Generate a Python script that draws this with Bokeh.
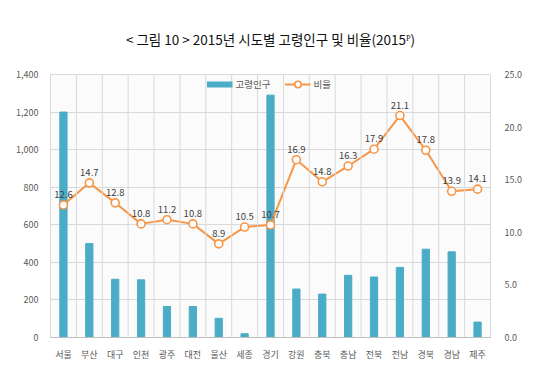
from bokeh.plotting import figure
from bokeh.models import (Range1d, LinearAxis, FixedTicker, NumeralTickFormatter, Label,
                          Legend, LegendItem, ColumnDataSource, Span, Title)
from bokeh.embed import file_html
from bokeh.resources import INLINE
from bokeh.core.properties import value

regions = ["서울", "부산", "대구", "인천", "광주", "대전", "울산", "세종", "경기",
           "강원", "충북", "충남", "전북", "전남", "경북", "경남", "제주"]
elderly = [1200, 500, 310, 307, 165, 165, 102, 20, 1290,
           258, 231, 331, 322, 373, 470, 456, 82]
ratio = [12.6, 14.7, 12.8, 10.8, 11.2, 10.8, 8.9, 10.5, 10.7,
         16.9, 14.8, 16.3, 17.9, 21.1, 17.8, 13.9, 14.1]
left_ticks = [0, 200, 400, 600, 800, 1000, 1200, 1400]
right_ticks = [0, 5, 10, 15, 20, 25]

FONT = "Noto Sans CJK KR"
BAR = "#4BACC6"
ORANGE = "#F79646"
TXT = "#595959"

src = ColumnDataSource(dict(cat=regions, val=elderly, pct=ratio,
                            lab=["%.1f" % v for v in ratio]))

p = figure(width=524, height=363, x_range=regions, y_range=Range1d(0, 1400),
           output_backend="svg", toolbar_location=None, title_location=None,
           min_border_left=50, min_border_right=34, min_border_top=70, min_border_bottom=25)
p.extra_y_ranges = {"pct": Range1d(0, 25)}
p.background_fill_color = "#fbfbfb"
p.border_fill_color = "white"
p.outline_line_color = "#d9d9d9"

# grids
p.ygrid.ticker = FixedTicker(ticks=left_ticks)
p.ygrid.grid_line_color = "#d9d9d9"
p.xgrid.visible = False
for i in range(1, len(regions)):
    p.add_layout(Span(location=i, dimension="height", line_color="#d9d9d9", line_width=1))

bars = p.vbar(x="cat", top="val", width=0.28, source=src, color=BAR)
ln = p.line(x="cat", y="pct", source=src, y_range_name="pct", color=ORANGE, line_width=2)
mk = p.scatter(x="cat", y="pct", source=src, y_range_name="pct", size=8,
               fill_color="white", line_color=ORANGE, line_width=1.6)
p.text(x="cat", y="pct", text="lab", source=src, y_range_name="pct", y_offset=-7,
       text_align="center", text_baseline="bottom", text_font=value(FONT),
       text_font_size="9.5px", text_color="#404040")

ax = p.xaxis[0]
ax.major_label_text_font = FONT
ax.major_label_text_font_size = "9px"
ax.major_label_text_color = TXT
ax.major_tick_line_color = None
ax.minor_tick_line_color = None
ax.axis_line_color = "#bfbfbf"
ax.major_label_standoff = 4

ly = p.yaxis[0]
ly.ticker = FixedTicker(ticks=left_ticks)
ly.formatter = NumeralTickFormatter(format="0,0")
ly.major_label_text_font = FONT
ly.major_label_text_font_size = "9px"
ly.major_label_text_color = TXT
ly.axis_line_color = None
ly.major_tick_line_color = None
ly.minor_tick_line_color = None
ly.major_label_standoff = 6

ry = LinearAxis(y_range_name="pct", ticker=FixedTicker(ticks=right_ticks),
                formatter=NumeralTickFormatter(format="0.0"))
ry.major_label_text_font = FONT
ry.major_label_text_font_size = "9px"
ry.major_label_text_color = TXT
ry.axis_line_color = None
ry.major_tick_line_color = None
ry.minor_tick_line_color = None
ry.major_label_standoff = 8
p.add_layout(ry, "right")

# legend inside the frame, top centre
dummy = p.line(x=[regions[0]], y=[float("nan")], color=BAR, line_width=6)
legend = Legend(items=[LegendItem(label="고령인구", renderers=[dummy]),
                       LegendItem(label="비율", renderers=[ln, mk])],
                orientation="horizontal", location="top_center",
                label_text_font=FONT, label_text_font_size="9.5px", label_text_color=TXT,
                glyph_width=26, glyph_height=16, label_standoff=3, spacing=14,
                padding=0, margin=2, border_line_color=None, background_fill_alpha=0)
p.add_layout(legend)

p.add_layout(Title(text="< 그림 10 > 2015년 시도별 고령인구 및 비율(2015ᴾ)", align="center",
                   text_font=FONT, text_font_size="13.5px", text_font_style="normal",
                   text_color="#111111", standoff=52), "above")

# unit labels beside the axes (screen units relative to the frame)
p.add_layout(Label(x=-13, y=280, x_units="screen", y_units="screen", text="천명",
                   text_font=FONT, text_font_size="9px", text_color=TXT,
                   text_align="center", text_baseline="middle"))
p.add_layout(Label(x=459, y=280, x_units="screen", y_units="screen", text="%",
                   text_font=FONT, text_font_size="9px", text_color=TXT,
                   text_align="center", text_baseline="middle"))

open("out.html", "w").write(file_html(p, INLINE))
